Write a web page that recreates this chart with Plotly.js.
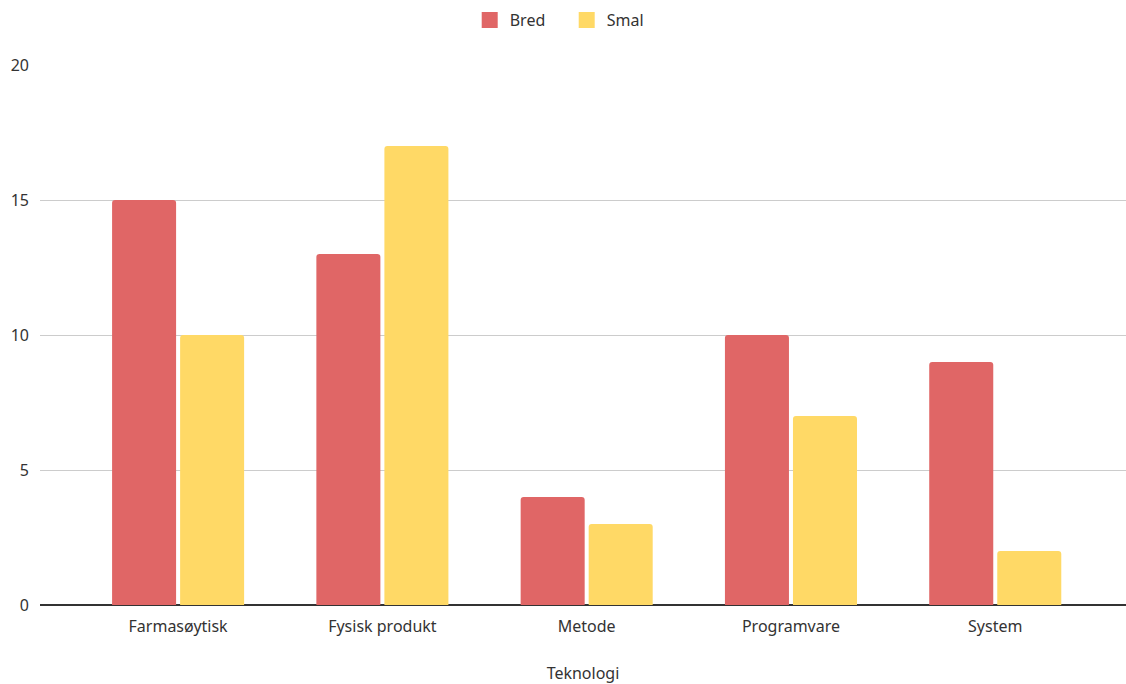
<!DOCTYPE html>
<html>
<head>
<meta charset="utf-8">
<script src="https://cdn.plot.ly/plotly-3.0.1.min.js"></script>
<style>
  html, body { margin: 0; padding: 0; background: #fff; }
  #chart { width: 1126px; height: 684px; }
</style>
</head>
<body>
<div id="chart"></div>
<script>
// Categories and counts per technology type
const categories = ["Farmasøytisk", "Fysisk produkt", "Metode", "Programvare", "System"];
const bred = [15, 13, 4, 10, 9];
const smal = [10, 17, 3, 7, 2];
const yTicks = [0, 5, 10, 15, 20];

const seriesNames = ["Bred", "Smal"];
const seriesColors = ["#E06666", "#FFD966"];
const seriesValues = [bred, smal];

const font = "'Noto Sans', 'Open Sans', sans-serif";

// Bars (legend handled by the square-marker entries below for larger swatches)
const traces = seriesNames.map((name, i) => ({
  type: "bar", name: name, x: categories, y: seriesValues[i],
  marker: { color: seriesColors[i], cornerradius: 3 },
  showlegend: false, legendgroup: name,
  hoverinfo: "x+y+name"
}));

// Legend swatches: one undrawn point each, so only the legend entry appears
seriesNames.forEach((name, i) => {
  traces.push({
    type: "scatter", mode: "markers", name: name, x: [categories[0]], y: [null],
    marker: { color: seriesColors[i], symbol: "square", size: 16 },
    legendgroup: name, showlegend: true, hoverinfo: "skip"
  });
});

const layout = {
  width: 1126, height: 684,
  margin: { l: 40, r: 0, t: 65, b: 79 },
  paper_bgcolor: "#fff", plot_bgcolor: "#fff",
  font: { family: font, size: 16, color: "#333" },
  barmode: "group",
  bargap: 0.334,
  bargroupgap: 0.059,
  showlegend: true,
  legend: {
    orientation: "h", x: 0.485, xanchor: "center", y: 1.083, yanchor: "middle",
    font: { size: 16, color: "#333" }, traceorder: "normal",
    itemwidth: 30, entrywidth: 52, entrywidthmode: "pixels"
  },
  xaxis: {
    type: "category",
    range: [-0.676, 4.64],
    showgrid: false, zeroline: false, showline: false,
    ticks: "", ticklabelstandoff: 10,
    tickfont: { size: 16, color: "#333" },
    title: { text: "Teknologi", font: { size: 16, color: "#333" }, standoff: 33 }
  },
  yaxis: {
    range: [0, 20],
    tickvals: yTicks,
    showgrid: true, gridcolor: "#ccc", gridwidth: 1,
    zeroline: true, zerolinecolor: "#333", zerolinewidth: 1.5,
    showline: false, ticks: "",
    tickfont: { size: 16, color: "#333" },
    ticklabelstandoff: 10
  }
};

Plotly.newPlot("chart", traces, layout, { displayModeBar: false, responsive: false });
</script>
</body>
</html>
